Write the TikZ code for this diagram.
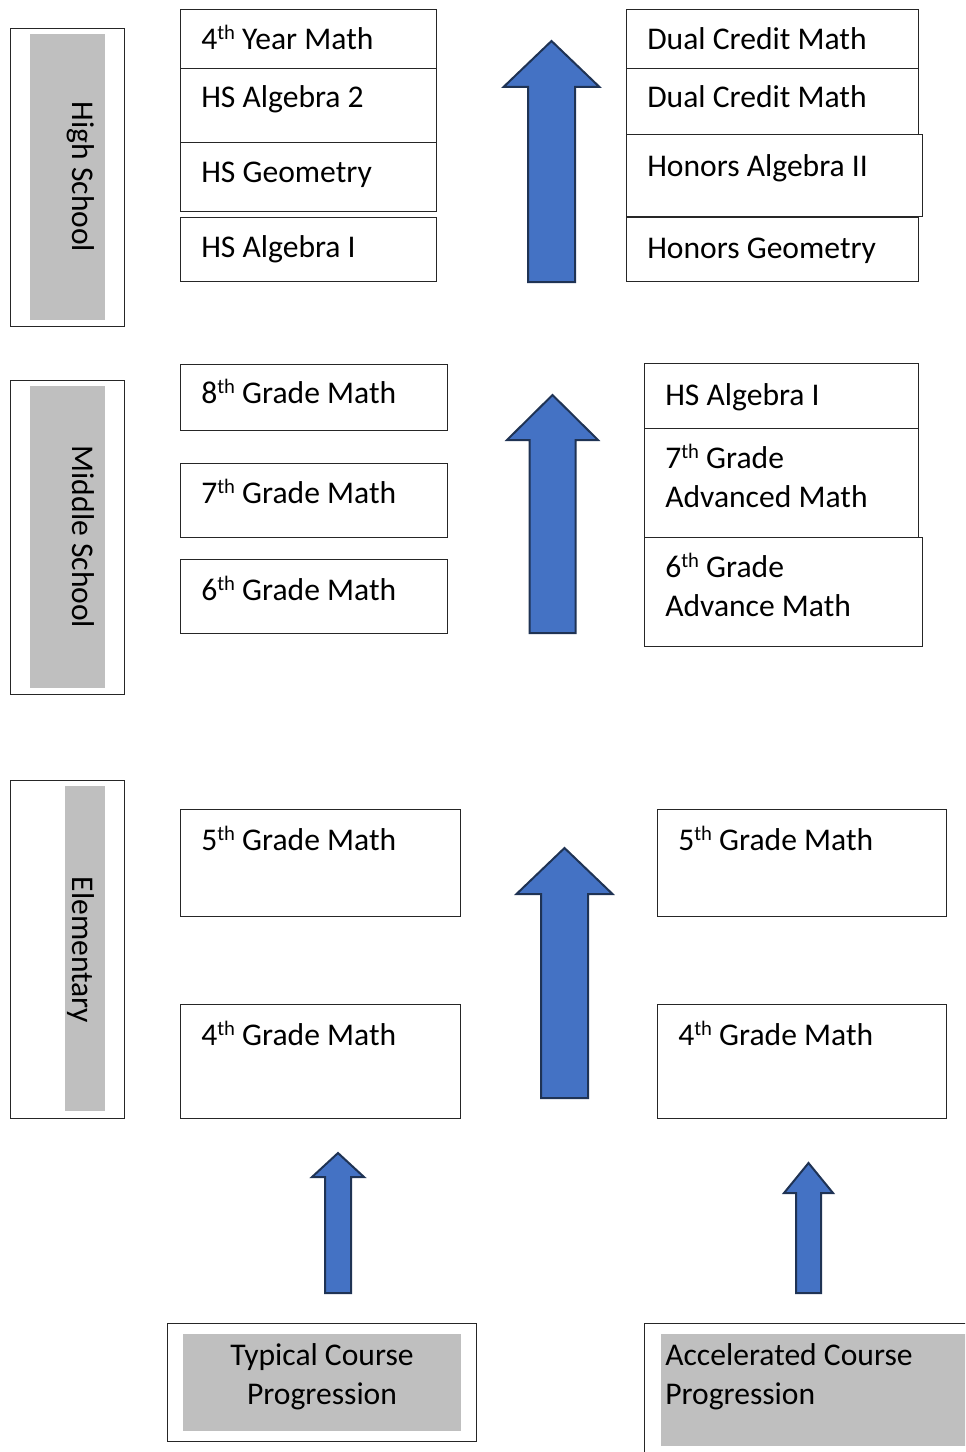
\documentclass[tikz,border=0pt]{standalone}
\usepackage{fontspec}
\setmainfont{Carlito}
\definecolor{lgray}{HTML}{BFBFBF}
\definecolor{arrowblue}{HTML}{4472C4}
\definecolor{arrowedge}{HTML}{1F3354}
\newcommand\fs{\fontsize{23.7}{29.3}\selectfont}
\newcommand\thsup{\raisebox{7.5pt}{\fontsize{15.5}{15.5}\selectfont th}}
\newcommand\bx[6][]{\node[box,#1,minimum width={(#4-#2)*0.75pt},minimum height={(#5-#3)*0.75pt}] (#6) at (#2,#3) {};}
\newcommand\uparr[6]{\draw[blockarrow] (#1,#2) -- (#1+#4,#3) -- (#1+#5,#3) -- (#1+#5,#6) -- (#1-#5,#6) -- (#1-#5,#3) -- (#1-#4,#3) -- cycle;}
\begin{document}
\begin{tikzpicture}[x=0.75pt,y=-0.75pt,
  box/.style={draw=black!85,line width=1pt,inner sep=0pt,anchor=north west,rectangle},
  graybox/.style={fill=lgray,draw=none,line width=0pt},
  txt/.style={inner sep=0pt,anchor=base west,font=\fs},
  ctxt/.style={inner sep=0pt,anchor=base,font=\fs},
  sidetxt/.style={inner sep=0pt,anchor=base,font=\fs,rotate=-90},
  blockarrow/.style={fill=arrowblue,draw=arrowedge,line width=1.5pt,line join=miter}]
\useasboundingbox (0,0) rectangle (965,1452);
\clip (0,0) rectangle (965,1452);
% ---- side labels
\bx{10}{28}{124}{326}{hsOut}
\bx[graybox]{30}{34}{105}{320}{hsGray}
\node[sidetxt] (hsLab) at (72,177) {High School};
\bx{10}{380}{124}{694}{msOut}
\bx[graybox]{30}{386}{105}{688}{msGray}
\node[sidetxt] (msLab) at (72,537) {Middle School};
\bx{10}{780}{124}{1118}{elOut}
\bx[graybox]{65}{786}{105}{1111}{elGray}
\node[sidetxt] (elLab) at (72,950) {Elementary};
% ---- high school, typical
\bx{180}{9}{436}{68}{hsL1}
\bx{180}{68}{436}{142}{hsL2}
\bx{180}{142}{436}{211}{hsL3}
\bx{180}{217}{436}{281}{hsL4}
\node[txt] (t_hsL1) at (201,50) {4\thsup{} Year Math};
\node[txt] (t_hsL2) at (201,108) {HS Algebra 2};
\node[txt] (t_hsL3) at (201,183) {HS Geometry};
\node[txt] (t_hsL4) at (201,257) {HS Algebra I};
% ---- high school, accelerated
\bx{626}{9}{918}{68}{hsR1}
\bx{626}{68}{918}{134}{hsR2}
\bx{626}{134}{922}{216}{hsR3}
\bx{626}{217}{918}{281}{hsR4}
\node[txt] (t_hsR1) at (647,50) {Dual Credit Math};
\node[txt] (t_hsR2) at (647,108) {Dual Credit Math};
\node[txt] (t_hsR3) at (647,176) {Honors Algebra II};
\node[txt] (t_hsR4) at (647,258) {Honors Geometry};
% ---- middle school, typical
\bx{180}{364}{447}{430}{msL1}
\bx{180}{463}{447}{537}{msL2}
\bx{180}{559}{447}{633}{msL3}
\node[txt] (t_msL1) at (201,403) {8\thsup{} Grade Math};
\node[txt] (t_msL2) at (201,503) {7\thsup{} Grade Math};
\node[txt] (t_msL3) at (201,600) {6\thsup{} Grade Math};
% ---- middle school, accelerated
\bx{644}{363}{918}{428}{msR1}
\bx{644}{428}{918}{537}{msR2}
\bx{644}{537}{922}{646}{msR3}
\node[txt] (t_msR1) at (665,405) {HS Algebra I};
\node[txt] (t_msR2) at (665,468) {\begin{tabular}[t]{@{}l@{}}7\thsup{} Grade\\Advanced Math\end{tabular}};
\node[txt] (t_msR3) at (665,577) {\begin{tabular}[t]{@{}l@{}}6\thsup{} Grade\\Advance Math\end{tabular}};
% ---- elementary
\bx{180}{809}{460}{916}{elL1}
\bx{180}{1004}{460}{1118}{elL2}
\node[txt] (t_elL1) at (201,850) {5\thsup{} Grade Math};
\node[txt] (t_elL2) at (201,1045) {4\thsup{} Grade Math};
\bx{657}{809}{946}{916}{elR1}
\bx{657}{1004}{946}{1118}{elR2}
\node[txt] (t_elR1) at (678,850) {5\thsup{} Grade Math};
\node[txt] (t_elR2) at (678,1045) {4\thsup{} Grade Math};
% ---- block arrows
\uparr{551.5}{41}{87}{48}{23.5}{282}
\uparr{552.5}{395}{440}{45.5}{23}{633}
\uparr{564.5}{848}{894}{48}{23.5}{1098}
\uparr{338}{1153}{1177}{26}{13}{1293}
\uparr{808.5}{1163}{1193}{24.5}{12.5}{1293}
% ---- bottom legends
\bx{167}{1323}{476}{1441}{typOut}
\bx[graybox]{183}{1334}{461}{1431}{typGray}
\node[ctxt] (typLab) at (322,1365) {\begin{tabular}[t]{@{}c@{}}Typical Course\\Progression\end{tabular}};
\bx{644}{1323}{1000}{1480}{accOut}
\bx[graybox]{661}{1334}{1000}{1446}{accGray}
\node[txt] (accLab) at (665,1365) {\begin{tabular}[t]{@{}l@{}}Accelerated Course\\Progression\end{tabular}};
\end{tikzpicture}
\end{document}
